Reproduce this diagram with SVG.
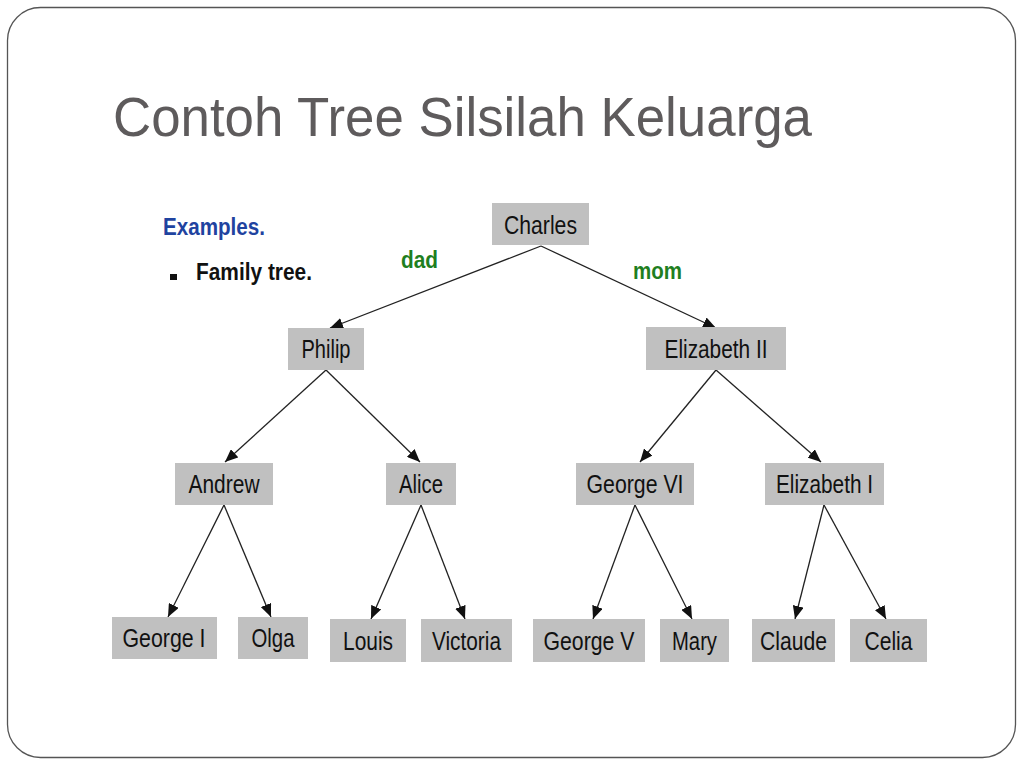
<svg xmlns="http://www.w3.org/2000/svg" width="1024" height="768" viewBox="0 0 1024 768">
<defs>
<style>
.frame{fill:#fff;stroke:#555;stroke-width:1.3}
.box{fill:#c0c0c0}
.lbl{font-family:"Liberation Sans",Arial,sans-serif;font-size:26px;fill:#111;text-anchor:middle}
.edge{stroke:#222;stroke-width:1.3;fill:none;marker-end:url(#arr)}
.rel{font-family:"Liberation Sans",Arial,sans-serif;font-size:23px;font-weight:bold;fill:#1f7f1f}
</style>
<marker id="arr" markerUnits="userSpaceOnUse" markerWidth="13" markerHeight="11" refX="13" refY="5.5" orient="auto">
<path d="M0,0 L13,5.5 L0,11 z" fill="#111"/>
</marker>
</defs>
<rect x="0" y="0" width="1024" height="768" fill="#fff"/>
<rect class="frame" x="7.5" y="7.5" width="1008" height="750" rx="33" ry="33"/>
<text x="113" y="136" font-family="'Liberation Sans',Arial,sans-serif" font-size="56" fill="#5e5b5c" textLength="699" lengthAdjust="spacingAndGlyphs">Contoh Tree Silsilah Keluarga</text>
<text x="163" y="235" font-family="'Liberation Sans',Arial,sans-serif" font-size="23" font-weight="bold" fill="#1f43a0" textLength="102" lengthAdjust="spacingAndGlyphs">Examples.</text>
<rect x="170" y="274" width="7" height="6" fill="#111"/>
<text x="196" y="280" font-family="'Liberation Sans',Arial,sans-serif" font-size="23" font-weight="bold" fill="#111" textLength="116" lengthAdjust="spacingAndGlyphs">Family tree.</text>
<text class="rel" x="401" y="268" textLength="37" lengthAdjust="spacingAndGlyphs">dad</text>
<text class="rel" x="633" y="279" textLength="49" lengthAdjust="spacingAndGlyphs">mom</text>
<g id="connectors">
<line class="edge" x1="541" y1="246" x2="330" y2="328"/>
<line class="edge" x1="541" y1="246" x2="716" y2="328"/>
<line class="edge" x1="326" y1="370" x2="225" y2="462"/>
<line class="edge" x1="326" y1="370" x2="420" y2="462"/>
<line class="edge" x1="716" y1="370" x2="640" y2="462"/>
<line class="edge" x1="716" y1="370" x2="821" y2="462"/>
<line class="edge" x1="224" y1="505" x2="168" y2="617"/>
<line class="edge" x1="224" y1="505" x2="271" y2="617"/>
<line class="edge" x1="421" y1="505" x2="371" y2="619"/>
<line class="edge" x1="421" y1="505" x2="465" y2="619"/>
<line class="edge" x1="635" y1="505" x2="593" y2="619"/>
<line class="edge" x1="635" y1="505" x2="692" y2="619"/>
<line class="edge" x1="824" y1="505" x2="795" y2="619"/>
<line class="edge" x1="824" y1="505" x2="886" y2="619"/>
</g>
<g id="charles"><rect class="box" x="492" y="203" width="97" height="42"/><text class="lbl" x="540.5" y="234" textLength="73" lengthAdjust="spacingAndGlyphs">Charles</text></g>
<g id="philip"><rect class="box" x="288" y="328" width="76" height="42"/><text class="lbl" x="326" y="358" textLength="49" lengthAdjust="spacingAndGlyphs">Philip</text></g>
<g id="elizabeth2"><rect class="box" x="646" y="327" width="140" height="43"/><text class="lbl" x="716" y="358" textLength="103" lengthAdjust="spacingAndGlyphs">Elizabeth II</text></g>
<g id="andrew"><rect class="box" x="175" y="463" width="98" height="42"/><text class="lbl" x="224" y="493" textLength="71" lengthAdjust="spacingAndGlyphs">Andrew</text></g>
<g id="alice"><rect class="box" x="386" y="463" width="70" height="42"/><text class="lbl" x="421" y="493" textLength="44" lengthAdjust="spacingAndGlyphs">Alice</text></g>
<g id="george6"><rect class="box" x="576" y="463" width="118" height="42"/><text class="lbl" x="635" y="493" textLength="97" lengthAdjust="spacingAndGlyphs">George VI</text></g>
<g id="elizabeth1"><rect class="box" x="765" y="463" width="119" height="42"/><text class="lbl" x="824.5" y="493" textLength="97" lengthAdjust="spacingAndGlyphs">Elizabeth I</text></g>
<g id="george1"><rect class="box" x="112" y="617" width="105" height="42"/><text class="lbl" x="164" y="647" textLength="83" lengthAdjust="spacingAndGlyphs">George I</text></g>
<g id="olga"><rect class="box" x="238" y="617" width="70" height="42"/><text class="lbl" x="273" y="647" textLength="43" lengthAdjust="spacingAndGlyphs">Olga</text></g>
<g id="louis"><rect class="box" x="330" y="619" width="76" height="43"/><text class="lbl" x="368" y="650" textLength="50" lengthAdjust="spacingAndGlyphs">Louis</text></g>
<g id="victoria"><rect class="box" x="421" y="619" width="91" height="43"/><text class="lbl" x="466.5" y="650" textLength="69" lengthAdjust="spacingAndGlyphs">Victoria</text></g>
<g id="george5"><rect class="box" x="533" y="619" width="112" height="43"/><text class="lbl" x="589" y="650" textLength="91" lengthAdjust="spacingAndGlyphs">George V</text></g>
<g id="mary"><rect class="box" x="660" y="619" width="69" height="43"/><text class="lbl" x="694.5" y="650" textLength="45" lengthAdjust="spacingAndGlyphs">Mary</text></g>
<g id="claude"><rect class="box" x="752" y="619" width="83" height="43"/><text class="lbl" x="793.5" y="650" textLength="67" lengthAdjust="spacingAndGlyphs">Claude</text></g>
<g id="celia"><rect class="box" x="850" y="619" width="77" height="43"/><text class="lbl" x="888.5" y="650" textLength="48" lengthAdjust="spacingAndGlyphs">Celia</text></g>
</svg>
